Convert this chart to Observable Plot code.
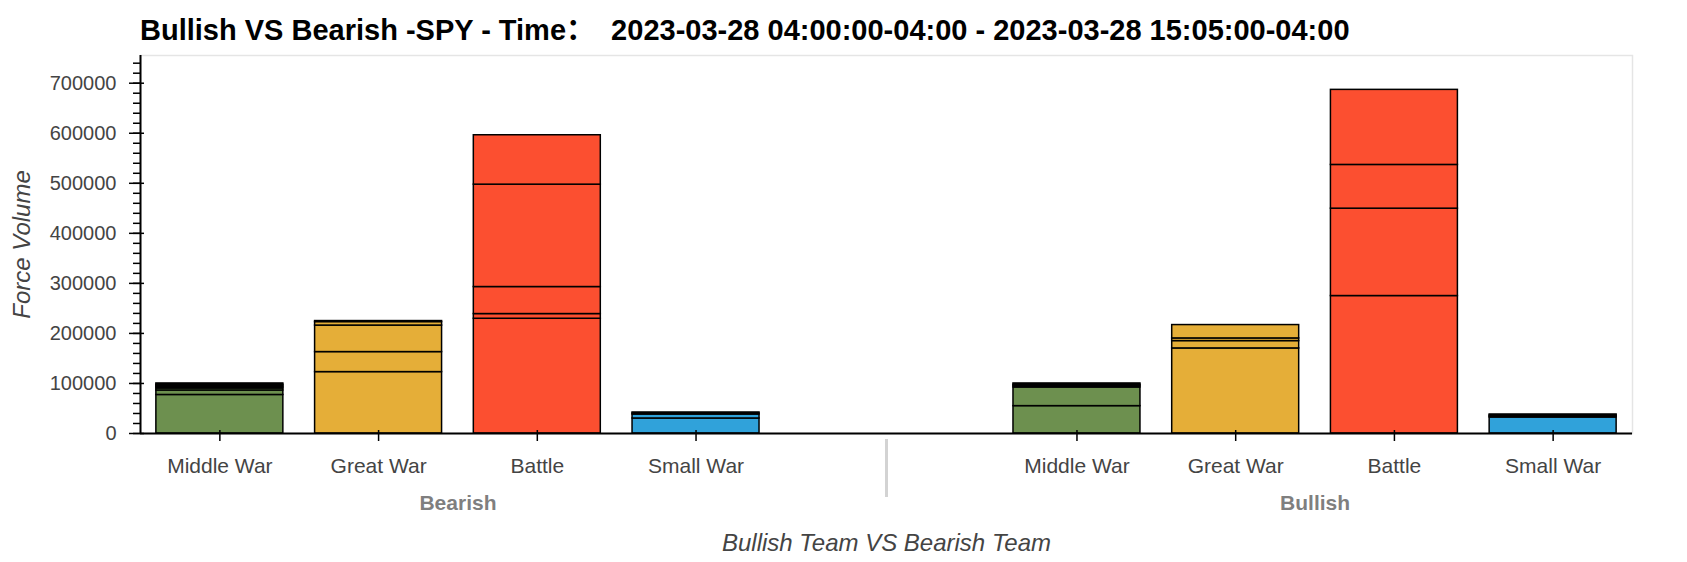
<!DOCTYPE html>
<html>
<head>
<meta charset="utf-8">
<script src="https://cdn.jsdelivr.net/npm/d3@7"></script>
<script src="https://cdn.jsdelivr.net/npm/@observablehq/plot@0.6"></script>
<style>
  html, body { margin: 0; padding: 0; background: #fff; }
  #title {
    height: 52px; box-sizing: border-box; padding: 8px 0 0 140px;
    font: bold 29px "Liberation Sans", Arial, "Noto Sans CJK SC", sans-serif;
    line-height: 44px; color: #000; white-space: pre;
  }
  #chart svg { display: block; overflow: visible; }
</style>
</head>
<body>
<div id="title">Bullish VS Bearish -SPY - Time：  2023-03-28 04:00:00-04:00 - 2023-03-28 15:05:00-04:00</div>
<div id="chart"></div>
<script>
// ---- data ----
const teams = ["Bearish", "Bullish"];
const categories = ["Middle War", "Great War", "Battle", "Small War"];
const categoryColors = ["#6D904F", "#E5AE38", "#FC4F30", "#30A2DA"];

// stacked segments per bar, bottom to top
const bearishMiddleWar = [77000, 9000, 4000, 2500, 2500, 2500, 2500];
const bearishGreatWar  = [122700, 40000, 53000, 7000, 2000];
const bearishBattle    = [229300, 9400, 54000, 204600, 98700];
const bearishSmallWar  = [30000, 8000, 2000, 2000];

const bullishMiddleWar = [54700, 37300, 2700, 2700, 2600];
const bullishGreatWar  = [170000, 14700, 5300, 26700];
const bullishBattle    = [274700, 174600, 87400, 150000];
const bullishSmallWar  = [32000, 2000, 2000, 2000];

const yTickValues = [0, 100000, 200000, 300000, 400000, 500000, 600000, 700000];
const yLabel = "Force Volume";
const xLabel = "Bullish Team VS Bearish Team";

// ---- table ----
const series = {
  Bearish: [bearishMiddleWar, bearishGreatWar, bearishBattle, bearishSmallWar],
  Bullish: [bullishMiddleWar, bullishGreatWar, bullishBattle, bullishSmallWar]
};
const groupPadding = 1.4;
const groupSpan = categories.length + groupPadding;
const pos = (ti, ci) => ti * groupSpan + ci + 0.5;

const rows = [];
const totals = [];
const tickPos = [];
const tickLabel = new Map();
teams.forEach((team, ti) => {
  categories.forEach((cat, ci) => {
    const c = pos(ti, ci);
    tickPos.push(c);
    tickLabel.set(c, cat);
    let acc = 0;
    series[team][ci].forEach(v => {
      rows.push({team, cat, x1: c - 0.4, x2: c + 0.4, y1: acc, y2: acc + v});
      acc += v;
    });
    totals.push(acc);
  });
});
const xMax = teams.length * categories.length + (teams.length - 1) * groupPadding;
const teamCenters = teams.map((t, ti) => ({team: t, x: ti * groupSpan + categories.length / 2}));
const separators = teams.slice(1).map((t, i) => (i + 1) * groupSpan - groupPadding / 2);
const yMax = d3.max(totals) * 1.1;
const minorTicks = d3.range(0, yMax, 20000);

const font = '"Liberation Sans", Arial, sans-serif';

const chart = Plot.plot({
  width: 1687,
  height: 510,
  marginTop: 3,
  marginBottom: 129,
  marginLeft: 140,
  marginRight: 55,
  style: {fontFamily: font, background: "#fff"},
  x: {domain: [0, xMax], axis: null},
  y: {domain: [0, yMax], axis: null},
  color: {domain: categories, range: categoryColors},
  marks: [
    Plot.frame({stroke: "#e5e5e5", strokeWidth: 1.5}),
    Plot.rect(rows, {x1: "x1", x2: "x2", y1: "y1", y2: "y2", fill: "cat", stroke: "black", strokeWidth: 1.5}),
    // axes lines
    Plot.ruleY([0], {stroke: "black", strokeWidth: 2}),
    Plot.ruleX([0], {stroke: "black", strokeWidth: 2}),
    // y axis: minor + major ticks
    Plot.axisY(minorTicks, {tickSize: 7, tickFormat: () => "", stroke: "black", strokeWidth: 1.5}),
    Plot.axisY(yTickValues, {tickSize: 15, dx: 4, tickPadding: 13, tickFormat: d3.format("d"),
      stroke: "black", strokeWidth: 1.5, fill: "#444", fontSize: 20, label: null}),
    // x axis category ticks & labels
    Plot.axisX(tickPos, {tickSize: 11, dy: -3, tickPadding: 17, tickFormat: d => tickLabel.get(d),
      stroke: "black", strokeWidth: 1.5, fill: "#444", fontSize: 21, label: null}),
    // group labels
    Plot.text(teamCenters, {x: "x", text: "team", frameAnchor: "bottom", lineAnchor: "middle", dy: 70,
      fill: "#7f7f7f", fontWeight: "bold", fontSize: 21}),
    // group separator
    Plot.ruleX(separators, {stroke: "#d3d3d3", strokeWidth: 3, insetTop: 384, insetBottom: -64}),
    // axis titles
    Plot.text([yLabel], {frameAnchor: "left", textAnchor: "middle", lineAnchor: "middle", dx: -118,
      rotate: -90, fontStyle: "italic", fontSize: 24, fill: "#444"}),
    Plot.text([xLabel], {frameAnchor: "bottom", textAnchor: "middle", lineAnchor: "middle", dy: 110,
      fontStyle: "italic", fontSize: 24, fill: "#444"})
  ]
});
document.getElementById("chart").appendChild(chart);
</script>
</body>
</html>
